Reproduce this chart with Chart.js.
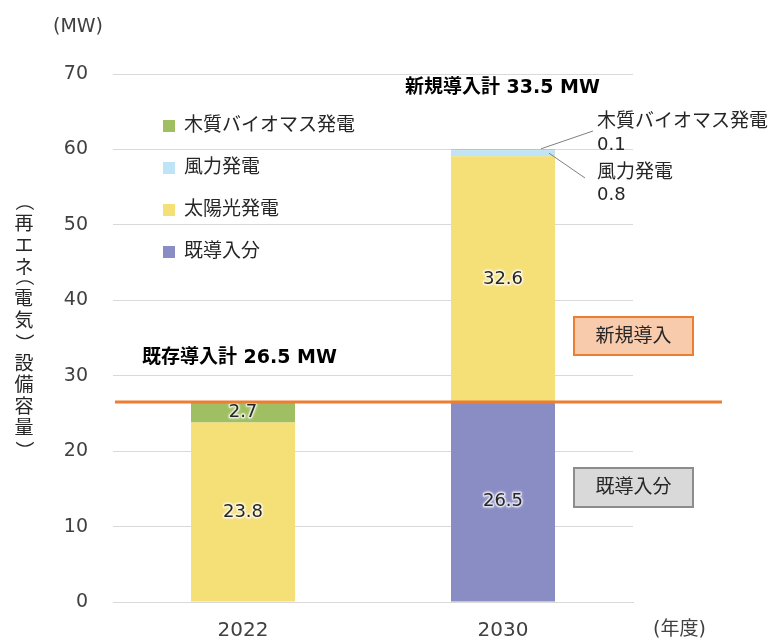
<!DOCTYPE html>
<html>
<head>
<meta charset="utf-8">
<script src="https://cdn.jsdelivr.net/npm/chart.js@4"></script>
<style>
  html, body { margin: 0; padding: 0; background: #fff; }
  #wrap { width: 768px; height: 639px; position: relative; }
</style>
</head>
<body>
<div id="wrap"><canvas id="chart" width="768" height="639"></canvas></div>
<script>
(function () {
  "use strict";

  var years = ["2022", "2030"];
  var existing = [0, 26.5];
  var solar = [23.8, 32.6];
  var wind = [0, 0.8];
  var biomass = [2.7, 0.1];
  var yTicks = [0, 10, 20, 30, 40, 50, 60, 70];
  var existingTotal = 26.5;
  var newTotal = 33.5;

  var FONT = "'DejaVu Sans', 'Noto Sans CJK JP', sans-serif";
  var TEXT = "#262626";
  var colors = {
    existing: "#8a8cc4",
    solar: "#f5df77",
    wind: "#bfe3f7",
    biomass: "#9fbf62"
  };

  var datasets = [
    { label: "既導入分", data: existing, backgroundColor: colors.existing },
    { label: "太陽光発電", data: solar, backgroundColor: colors.solar },
    { label: "風力発電", data: wind, backgroundColor: colors.wind },
    { label: "木質バイオマス発電", data: biomass, backgroundColor: colors.biomass }
  ];

  function text(ctx, str, x, y, opts) {
    opts = opts || {};
    ctx.save();
    ctx.font = (opts.weight || "normal") + " " + (opts.size || 19) + "px " + FONT;
    ctx.fillStyle = opts.color || TEXT;
    ctx.textAlign = opts.align || "left";
    ctx.textBaseline = "middle";
    if (opts.halo) {
      ctx.strokeStyle = "rgba(255,255,255,0.55)";
      ctx.lineWidth = 3;
      ctx.lineJoin = "round";
      ctx.shadowColor = "rgba(255,255,255,0.9)";
      ctx.shadowBlur = 3;
      ctx.strokeText(str, x, y);
      ctx.shadowBlur = 0;
    }
    ctx.fillText(str, x, y);
    ctx.restore();
  }

  function line(ctx, x1, y1, x2, y2, color, width) {
    ctx.save();
    ctx.strokeStyle = color;
    ctx.lineWidth = width;
    ctx.beginPath();
    ctx.moveTo(x1, y1);
    ctx.lineTo(x2, y2);
    ctx.stroke();
    ctx.restore();
  }

  function box(ctx, x, y, w, h, fill, stroke, label) {
    ctx.save();
    ctx.fillStyle = fill;
    ctx.fillRect(x, y, w, h);
    ctx.strokeStyle = stroke;
    ctx.lineWidth = 2;
    ctx.strokeRect(x, y, w, h);
    ctx.restore();
    text(ctx, label, x + w / 2, y + h / 2 + 1, { align: "center" });
  }

  // draw one glyph with its ink box centred on (x, y), optionally rotated
  function glyph(ctx, ch, x, y, rotate) {
    ctx.save();
    ctx.textAlign = "left";
    ctx.textBaseline = "alphabetic";
    var m = ctx.measureText(ch);
    var gx = (m.actualBoundingBoxRight - m.actualBoundingBoxLeft) / 2;
    var gy = (m.actualBoundingBoxDescent - m.actualBoundingBoxAscent) / 2;
    ctx.translate(x, y);
    if (rotate) ctx.rotate(Math.PI / 2);
    ctx.fillText(ch, -gx, -gy);
    ctx.restore();
  }

  var annotations = {
    id: "annotations",
    afterDatasetsDraw: function (chart) {
      var ctx = chart.ctx;
      var ys = chart.scales.y;
      var area = chart.chartArea;

      // segment value labels
      chart.data.datasets.forEach(function (ds, di) {
        var meta = chart.getDatasetMeta(di);
        meta.data.forEach(function (bar, i) {
          var v = ds.data[i];
          if (v < 2) return;
          var cy = (bar.y + bar.base) / 2;
          text(ctx, v.toFixed(1), bar.x, cy, { align: "center", size: 18, halo: true });
        });
      });

      // existing total line
      var yLine = ys.getPixelForValue(existingTotal);
      line(ctx, area.left + 2, yLine, 722, yLine, "#ed7d31", 3);

      // leader lines for small 2030 segments
      var bar30 = chart.getDatasetMeta(3).data[1];
      var top = existing[1] + solar[1] + wind[1];
      line(ctx, bar30.x + 38, ys.getPixelForValue(top + biomass[1] / 2) - 1, 593, 131, "#7f7f7f", 1);
      line(ctx, bar30.x + 46, ys.getPixelForValue(existing[1] + solar[1] + wind[1] / 2), 585, 178, "#7f7f7f", 1);
      text(ctx, "木質バイオマス発電", 597, 122);
      text(ctx, biomass[1].toFixed(1), 597, 145, { size: 18 });
      text(ctx, "風力発電", 597, 173);
      text(ctx, wind[1].toFixed(1), 597, 195, { size: 18 });

      text(ctx, "新規導入計 " + newTotal + " MW", 405, 88, { weight: "bold", color: "#000" });
      text(ctx, "既存導入計 " + existingTotal + " MW", 142, 358, { weight: "bold", color: "#000" });

      box(ctx, 574, 317, 119, 38, "#f8cbad", "#ed7d31", "新規導入");
      box(ctx, 574, 468, 119, 39, "#d9d9d9", "#8c8c8c", "既導入分");

      // legend (reverse order, inside plot)
      var rows = [126, 168, 210, 252];
      for (var k = 0; k < 4; k++) {
        var ds = chart.data.datasets[3 - k];
        ctx.fillStyle = ds.backgroundColor;
        ctx.fillRect(163, rows[k] - 6, 12, 12);
        text(ctx, ds.label, 184, rows[k]);
      }

      // units
      text(ctx, "(MW)", 53, 27, { color: "#404040", size: 19 });
      text(ctx, "(年度)", 653, 630, { color: "#404040" });

      // vertical axis title; brackets turned a quarter so they read downward
      var title = "（再エネ（電気）設備容量）";
      var cy = 208;
      ctx.save();
      ctx.font = "19px 'Noto Sans CJK JP', sans-serif";
      ctx.fillStyle = TEXT;
      for (var c = 0; c < title.length; c++) {
        var ch = title[c];
        var next = title[c + 1];
        var isParen = ch === "（" || ch === "）";
        glyph(ctx, ch, 24, cy, isParen);
        if (ch === "）") cy += 26;
        else if (ch === "（") cy += 15;
        else if (next === "（" || next === "）") cy += 17;
        else cy += 21.5;
      }
      ctx.restore();
    }
  };

  new Chart(document.getElementById("chart"), {
    type: "bar",
    data: { labels: years, datasets: datasets },
    plugins: [annotations],
    options: {
      responsive: false,
      animation: false,
      events: [],
      layout: { padding: { left: 0, right: 135, top: 74, bottom: 0 } },
      datasets: { bar: { categoryPercentage: 0.8, barPercentage: 0.5 } },
      plugins: { legend: { display: false }, tooltip: { enabled: false } },
      scales: {
        x: {
          stacked: true,
          grid: { display: false, drawTicks: false },
          border: { color: "#d9d9d9", width: 1 },
          ticks: { color: "#404040", font: { family: FONT, size: 20 }, padding: 17 },
          afterFit: function (scale) { scale.height = 37; }
        },
        y: {
          stacked: true,
          min: 0,
          max: 70,
          afterBuildTicks: function (scale) {
            scale.ticks = yTicks.map(function (v) { return { value: v }; });
          },
          grid: { color: "#d9d9d9", drawTicks: false },
          border: { display: false },
          ticks: { color: "#404040", font: { family: FONT, size: 19 }, padding: 25 },
          afterFit: function (scale) { scale.width = 113; }
        }
      }
    }
  });
})();
</script>
</body>
</html>
